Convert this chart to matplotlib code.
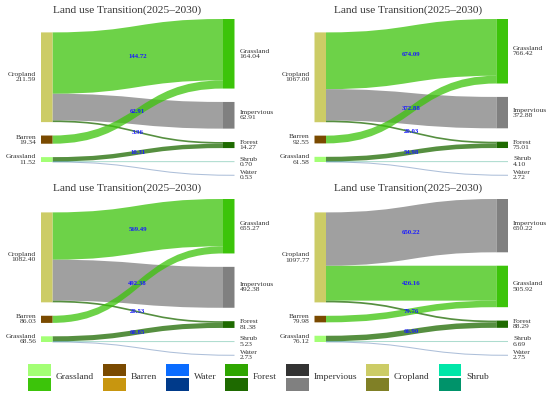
import matplotlib
matplotlib.use("Agg")
import matplotlib.pyplot as plt
from matplotlib.path import Path
from matplotlib.patches import PathPatch, Rectangle

plt.rcParams['font.family'] = ['Liberation Serif', 'DejaVu Serif']

# ---------------- data ----------------
title = "Land use Transition(2025\u20132030)"

src_names = ["Cropland", "Barren", "Grassland"]
src_values = [
    [211.59, 19.34, 11.52],
    [1067.00, 92.55, 61.58],
    [1082.40, 86.03, 68.56],
    [1097.77, 79.98, 76.12],
]

tgt_names = [
    ["Grassland", "Impervious", "Forest", "Shrub", "Water"],
    ["Grassland", "Impervious", "Forest", "Shrub", "Water"],
    ["Grassland", "Impervious", "Forest", "Shrub", "Water"],
    ["Impervious", "Grassland", "Forest", "Shrub", "Water"],
]
tgt_values = [
    [164.04, 62.91, 14.27, 0.70, 0.53],
    [766.42, 372.88, 75.01, 4.10, 2.72],
    [655.27, 492.38, 81.38, 5.23, 2.73],
    [650.22, 505.92, 88.29, 6.69, 2.75],
]

# flows: (source, target, value)
cropland_to_grassland = [144.72, 674.09, 569.49, 426.16]
cropland_to_impervious = [62.91, 372.88, 492.38, 650.22]
cropland_to_forest = [3.96, 20.03, 20.53, 21.39]
barren_to_grassland = [19.32, 92.33, 85.78, 79.76]
grassland_to_forest = [10.31, 54.98, 60.85, 66.90]
grassland_to_shrub = [0.70, 4.10, 5.23, 6.69]
grassland_to_water = [0.53, 2.72, 2.73, 2.75]

# which flow values carry a visible label in each panel
labelled = [
    [("Cropland", "Grassland"), ("Cropland", "Impervious"), ("Cropland", "Forest"), ("Grassland", "Forest")],
    [("Cropland", "Grassland"), ("Cropland", "Impervious"), ("Cropland", "Forest"), ("Grassland", "Forest")],
    [("Cropland", "Grassland"), ("Cropland", "Impervious"), ("Cropland", "Forest"), ("Grassland", "Forest")],
    [("Cropland", "Grassland"), ("Cropland", "Impervious"), ("Barren", "Grassland"), ("Grassland", "Forest")],
]

legend_names = ["Grassland", "Barren", "Water", "Forest", "Impervious", "Cropland", "Shrub"]
legend_light = ["#a3ff75", "#7a4a00", "#0a6cff", "#2fa600", "#333333", "#cccc66", "#00e6a8"]
legend_dark = ["#3cc40a", "#c8960f", "#003a8a", "#1e6a00", "#808080", "#808026", "#00936a"]

src_color = dict(zip(legend_names, legend_light))
tgt_color = dict(zip(legend_names, legend_dark))

# ---------------- layout ----------------
W, H = 550, 396
fig = plt.figure(figsize=(W / 100, H / 100), dpi=100)

panel_w, panel_h = 275, 180
panel_x0 = [0, 273.5]
panel_y0 = [0, 180]
title_x = [127.5, 134.5]
title_y = [10, 8.5]

node_left_x = 41
node_right_x = 223
node_w = 11.5
top_y = 19
col_h = 156.4
gap = 13.4
text_col = "#333333"


def bez(x0, y0, x1, y1):
    xm = (x0 + x1) / 2
    return [(x0, y0), (xm, y0), (xm, y1), (x1, y1)]


for p in range(4):
    r, c = divmod(p, 2)
    x0, y0 = panel_x0[c], panel_y0[r]
    ax = fig.add_axes([x0 / W, 1 - (y0 + panel_h) / H, panel_w / W, panel_h / H])
    ax.set_xlim(0, panel_w)
    ax.set_ylim(panel_h, 0)
    ax.axis("off")

    flows = [
        ("Cropland", "Grassland", cropland_to_grassland[p]),
        ("Cropland", "Impervious", cropland_to_impervious[p]),
        ("Cropland", "Forest", cropland_to_forest[p]),
        ("Barren", "Grassland", barren_to_grassland[p]),
        ("Grassland", "Forest", grassland_to_forest[p]),
        ("Grassland", "Shrub", grassland_to_shrub[p]),
        ("Grassland", "Water", grassland_to_water[p]),
    ]

    svals = src_values[p]
    tvals = tgt_values[p]
    ky = min((col_h - (len(svals) - 1) * gap) / sum(svals),
             (col_h - (len(tvals) - 1) * gap) / sum(tvals))
    center = top_y + col_h / 2

    def stack(vals):
        tot = sum(vals) * ky + (len(vals) - 1) * gap
        y = center - tot / 2
        pos = []
        for v in vals:
            pos.append(y)
            y += v * ky + gap
        return pos

    spos = dict(zip(src_names, stack(svals)))
    tpos = dict(zip(tgt_names[p], stack(tvals)))
    sval = dict(zip(src_names, svals))
    tval = dict(zip(tgt_names[p], tvals))

    s_off = {n: spos[n] for n in src_names}
    t_off = {n: tpos[n] for n in tgt_names[p]}
    out_sorted = sorted(flows, key=lambda f: (src_names.index(f[0]), tpos[f[1]]))
    seg_s = {}
    for f in out_sorted:
        seg_s[(f[0], f[1])] = s_off[f[0]]
        s_off[f[0]] += f[2] * ky
    in_sorted = sorted(flows, key=lambda f: (tgt_names[p].index(f[1]), spos[f[0]]))
    seg_t = {}
    for f in in_sorted:
        seg_t[(f[0], f[1])] = t_off[f[1]]
        t_off[f[1]] += f[2] * ky

    xs = node_left_x + node_w
    xt = node_right_x
    label_items = []
    for s, t, v in flows:
        h = v * ky
        ys0 = seg_s[(s, t)]
        yt0 = seg_t[(s, t)]
        col = tgt_color[t]
        if h < 1.2:
            mid = bez(xs, ys0 + h / 2, xt + node_w, yt0 + h / 2)
            ax.add_patch(PathPatch(Path(mid, [Path.MOVETO, Path.CURVE4, Path.CURVE4, Path.CURVE4]),
                                   facecolor="none", edgecolor=col, lw=0.75, alpha=0.32,
                                   zorder=2, snap=False))
        else:
            top = bez(xs, ys0, xt, yt0)
            bot = bez(xt, yt0 + h, xs, ys0 + h)
            verts = top + bot + [top[0]]
            codes = ([Path.MOVETO, Path.CURVE4, Path.CURVE4, Path.CURVE4,
                      Path.LINETO, Path.CURVE4, Path.CURVE4, Path.CURVE4, Path.CLOSEPOLY])
            ax.add_patch(PathPatch(Path(verts, codes), facecolor=col, edgecolor="none",
                                   alpha=0.75, zorder=2))
        if (s, t) in labelled[p]:
            label_items.append(((xs + xt) / 2, (ys0 + yt0 + h) / 2, v))

    # nodes
    for n in src_names:
        ax.add_patch(Rectangle((node_left_x, spos[n]), node_w, sval[n] * ky,
                               facecolor=src_color[n], edgecolor="none", zorder=3, snap=False))
        ax.text(node_left_x - 5, spos[n] + sval[n] * ky / 2, f"{n}\n{sval[n]:.2f}",
                ha="right", va="center", fontsize=5.4, color=text_col, linespacing=1.05, zorder=5)
    for n in tgt_names[p]:
        hh = tval[n] * ky
        if hh >= 1.2:
            ax.add_patch(Rectangle((node_right_x, tpos[n]), node_w, hh,
                                   facecolor=tgt_color[n], edgecolor="none", zorder=3, snap=False))
        ax.text(node_right_x + node_w + 5, tpos[n] + hh / 2, f"{n}\n{tval[n]:.2f}",
                ha="left", va="center", fontsize=5.4, color=text_col, linespacing=1.05, zorder=5)

    for lx, ly, v in label_items:
        ax.text(lx, ly, f"{v:.2f}", ha="center", va="center", fontsize=4.9,
                fontweight="bold", color="#1a1aff", zorder=6)

    ax.text(title_x[c], title_y[r], title, ha="center", va="center",
            fontsize=8.2, color=text_col)

# ---------------- legend ----------------
lax = fig.add_axes([0, 0, 1, 1])
lax.set_xlim(0, W)
lax.set_ylim(H, 0)
lax.axis("off")
lax.patch.set_alpha(0)
fig.canvas.draw()
renderer = fig.canvas.get_renderer()
x = 28.3
icon_w, icon_h = 22.7, 12.6
ytop = 363.7
for name, lc, dc in zip(legend_names, legend_light, legend_dark):
    lax.add_patch(Rectangle((x, ytop), icon_w, icon_h, facecolor=lc, edgecolor="none"))
    lax.add_patch(Rectangle((x, ytop + icon_h + 1.8), icon_w, icon_h, facecolor=dc, edgecolor="none"))
    t = lax.text(x + icon_w + 5, ytop + icon_h + 0.9, name, ha="left", va="center",
                 fontsize=6.8, color=text_col)
    bb = t.get_window_extent(renderer=renderer)
    x = x + icon_w + 5 + bb.width + 9

fig.savefig("out.png", dpi=100)
